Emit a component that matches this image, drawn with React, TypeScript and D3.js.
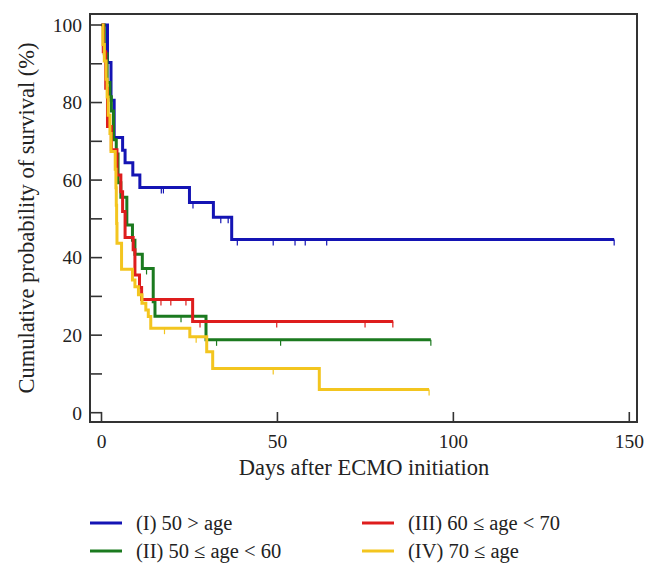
import React from 'react';
import * as d3 from 'd3';

// Kaplan-Meier steps: time (days) at which survival changes, and the new value (%)
const groupITimes = [0, 1.7, 2.7, 3.6, 6.0, 6.7, 8.9, 10.9, 25.0, 31.8, 37.0];
const groupISurv = [100, 90.3, 80.6, 71.0, 67.7, 64.5, 61.3, 58.1, 54.2, 50.4, 44.7];
const groupIEnd = 145.7;
const groupICensor = [17.0, 17.6, 26.0, 33.9, 36.0, 38.6, 48.8, 55.0, 57.9, 64.0, 145.7];

const groupIITimes = [0, 0.8, 1.6, 2.4, 2.8, 3.4, 4.2, 4.7, 5.5, 7.2, 8.8, 9.5, 11.6, 14.7, 15.2, 29.7];
const groupIISurv = [100, 92.6, 85.2, 81.5, 77.8, 70.4, 66.7, 59.3, 55.6, 48.4, 44.5, 40.9, 37.2, 28.6, 24.9, 18.8];
const groupIIEnd = 93.6;
const groupIICensor = [12.8, 22.6, 32.7, 50.9, 93.6];

const groupIIITimes = [0, 0.5, 1.2, 1.7, 2.8, 4.4, 5.5, 6.0, 6.7, 9.0, 9.5, 10.8, 11.4, 25.9];
const groupIIISurv = [100, 93.1, 83.7, 73.8, 67.8, 61.3, 57.0, 51.9, 45.2, 42.0, 35.5, 32.3, 29.2, 23.5];
const groupIIIEnd = 82.9;
const groupIIICensor = [16.9, 19.7, 24.0, 28.0, 49.8, 74.9, 82.8];

const groupIVTimes = [0, 0.4, 0.8, 1.3, 1.6, 1.9, 2.4, 2.7, 3.9, 4.1, 4.2, 4.3, 4.4, 5.7, 8.8, 9.5, 10.5, 11.5, 12.6, 13.3, 14.0, 25.1, 29.9, 31.6, 61.9];
const groupIVSurv = [100, 95.0, 90.7, 86.0, 81.4, 76.7, 72.0, 67.4, 62.8, 58.0, 53.5, 48.8, 43.7, 37.0, 34.2, 32.5, 30.4, 28.2, 26.5, 24.8, 21.8, 19.6, 15.7, 11.4, 6.0];
const groupIVEnd = 93.1;
const groupIVCensor = [17.9, 26.9, 48.8, 93.1];

const yTicks = [0, 20, 40, 60, 80, 100];
const yMinorTicks = [10, 30, 50, 70, 90];
const xTicks = [0, 50, 100, 150];

const series = [
  { label: '(I) 50 > age', color: '#1414b4', times: groupITimes, surv: groupISurv, end: groupIEnd, censor: groupICensor },
  { label: '(II) 50 ≤ age < 60', color: '#1b7a1f', times: groupIITimes, surv: groupIISurv, end: groupIIEnd, censor: groupIICensor },
  { label: '(III) 60 ≤ age < 70', color: '#de1d1d', times: groupIIITimes, surv: groupIIISurv, end: groupIIIEnd, censor: groupIIICensor },
  { label: '(IV) 70 ≤ age', color: '#f3c51f', times: groupIVTimes, surv: groupIVSurv, end: groupIVEnd, censor: groupIVCensor },
];

const W = 656;
const H = 575;
const frame = { left: 90, right: 637, top: 14, bottom: 422 };
const font = '"Liberation Serif", "Times New Roman", serif';

export default function App() {
  const x = d3.scaleLinear().domain([0, 150]).range([101.5, 629.3]);
  const y = d3.scaleLinear().domain([0, 100]).range([412.7, 25]);

  const line = d3
    .line<[number, number]>()
    .x(d => x(d[0]))
    .y(d => y(d[1]))
    .curve(d3.curveStepAfter);

  const survAt = (times: number[], surv: number[], t: number) => {
    const i = d3.bisectRight(times, t) - 1;
    return surv[Math.max(0, i)];
  };

  // legend positions: two columns, two rows
  const legendPos = [
    { lx: 90, ly: 523 },
    { lx: 90, ly: 551 },
    { lx: 362, ly: 523 },
    { lx: 362, ly: 551 },
  ];

  return (
    <svg width={W} height={H} style={{ position: 'absolute', left: 0, top: 0, background: '#fff' }}>
      {/* curves */}
      {series.map(s => {
        const pts: [number, number][] = s.times.map((t, i) => [t, s.surv[i]] as [number, number]);
        pts.push([s.end, s.surv[s.surv.length - 1]]);
        return (
          <g key={s.label}>
            <path d={line(pts) || ''} fill="none" stroke={s.color} strokeWidth={3} strokeLinejoin="miter" />
            {s.censor.map((c, i) => {
              const v = survAt(s.times, s.surv, c);
              return (
                <line key={i} x1={x(c)} x2={x(c)} y1={y(v)} y2={y(v) + 6} stroke={s.color} strokeWidth={1.2} />
              );
            })}
          </g>
        );
      })}

      {/* frame */}
      <rect
        x={frame.left}
        y={frame.top}
        width={frame.right - frame.left}
        height={frame.bottom - frame.top}
        fill="none"
        stroke="#333"
        strokeWidth={2}
      />

      {/* y axis ticks */}
      {yTicks.map(t => (
        <g key={t}>
          <line x1={frame.left} x2={frame.left + 12} y1={y(t)} y2={y(t)} stroke="#333" strokeWidth={1.6} />
          <text x={82} y={y(t)} dy="0.35em" textAnchor="end" fontFamily={font} fontSize={19.5} fill="#222">
            {t}
          </text>
        </g>
      ))}
      {yMinorTicks.map(t => (
        <line key={t} x1={frame.left} x2={frame.left + 12} y1={y(t)} y2={y(t)} stroke="#333" strokeWidth={1.6} />
      ))}

      {/* x axis ticks */}
      {xTicks.map(t => (
        <g key={t}>
          <line x1={x(t)} x2={x(t)} y1={frame.bottom} y2={frame.bottom - 10} stroke="#333" strokeWidth={1.6} />
          <text x={x(t)} y={448} textAnchor="middle" fontFamily={font} fontSize={19.5} fill="#222">
            {t}
          </text>
        </g>
      ))}

      {/* axis titles */}
      <text x={364} y={475} textAnchor="middle" fontFamily={font} fontSize={22.5} fill="#222">
        Days after ECMO initiation
      </text>
      <text
        transform={`translate(34, 218) rotate(-90)`}
        textAnchor="middle"
        fontFamily={font}
        fontSize={22.5}
        fill="#222"
      >
        Cumulative probability of survival (%)
      </text>

      {/* legend */}
      {series.map((s, i) => (
        <g key={s.label} transform={`translate(${legendPos[i].lx}, ${legendPos[i].ly})`}>
          <line x1={0} x2={32} y1={0} y2={0} stroke={s.color} strokeWidth={3} />
          <text x={46} y={0} dy="0.33em" fontFamily={font} fontSize={20.5} fill="#222">
            {s.label}
          </text>
        </g>
      ))}
    </svg>
  );
}
